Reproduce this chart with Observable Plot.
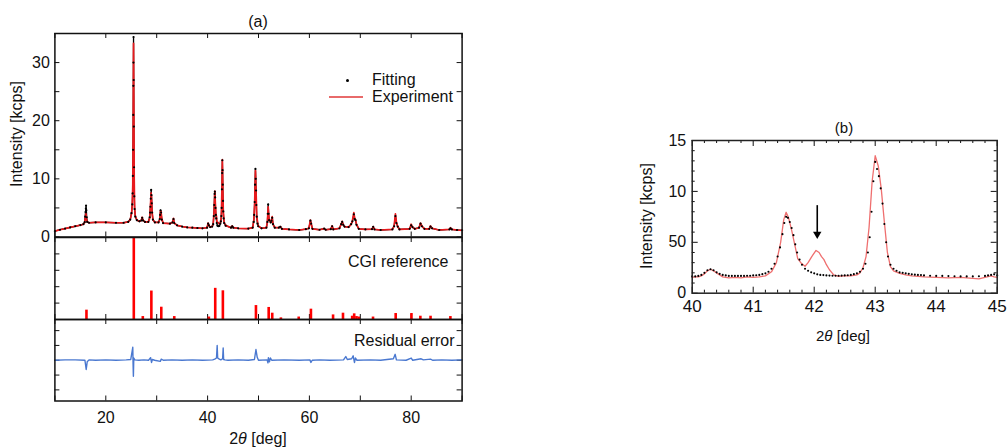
<!DOCTYPE html>
<html><head><meta charset="utf-8">
<script src="https://cdn.jsdelivr.net/npm/d3@7"></script>
<script src="https://cdn.jsdelivr.net/npm/@observablehq/plot@0.6"></script>
<style>
html,body{margin:0;padding:0;background:#fff;}
#root{position:relative;width:1007px;height:448px;overflow:hidden;font-family:'Liberation Sans',Arial,Helvetica,sans-serif;color:#111;}
#root svg{position:absolute;overflow:visible;}
.lbl{position:absolute;white-space:nowrap;line-height:1;color:#111;}
</style></head><body><div id="root"></div>
<script>
// ---------- DATA (2θ in deg, intensity in kcps) ----------
// Panel (a): experiment (red line)
const expA = [[10,1.0],[11,1.25],[12,1.45],[13,1.65],[14,1.85],[15,2.05],[15.6,2.2],[15.85,2.5],[16.0,3.6],[16.1,4.0],[16.2,3.2],[16.35,2.6],[16.7,2.45],[18,2.5],[20,2.5],[22,2.45],[23.5,2.45],[24.4,2.6],[24.8,3.0],[25.05,4.0],[25.2,5.5],[25.3,9],[25.38,20],[25.45,33.3],[25.52,22],[25.58,10],[25.66,5.0],[25.8,3.6],[26.1,2.9],[26.6,2.7],[27.0,2.9],[27.15,3.4],[27.3,2.9],[27.7,2.6],[28.35,2.6],[28.62,3.2],[28.78,5.5],[28.9,7.6],[28.98,6.8],[29.08,4.5],[29.25,3.0],[29.65,2.5],[30.35,2.5],[30.6,3.0],[30.74,4.5],[30.84,4.4],[31.0,3.2],[31.25,2.4],[32.6,2.3],[33.1,2.5],[33.3,3.2],[33.45,2.4],[34,2.0],[35,1.8],[36,1.65],[37,1.6],[38,1.55],[39,1.5],[39.9,1.6],[40.1,2.4],[40.25,2.0],[40.5,1.7],[40.9,1.8],[41.1,2.3],[41.28,4.5],[41.42,7.9],[41.52,5.8],[41.63,3.9],[41.73,3.6],[41.85,2.6],[42.05,2.5],[42.2,2.3],[42.5,2.4],[42.7,3.5],[42.82,8.5],[42.9,13.3],[42.98,9.0],[43.08,4.5],[43.25,2.5],[43.55,2.0],[44.6,1.6],[44.83,1.9],[45.05,1.6],[46,1.5],[48,1.45],[48.85,1.6],[49.1,3.0],[49.25,6.0],[49.4,11.4],[49.52,8.0],[49.65,3.5],[49.95,1.9],[50.6,1.5],[51.55,1.6],[51.75,2.6],[51.9,5.2],[52.08,3.0],[52.4,2.5],[52.55,2.9],[52.69,3.5],[52.85,2.2],[53.2,1.6],[54.0,1.6],[54.3,1.8],[54.6,1.4],[56,1.3],[58,1.2],[59.3,1.35],[59.9,1.5],[60.2,2.9],[60.35,2.3],[60.6,1.4],[62,1.25],[62.9,1.45],[63.2,1.25],[64.2,1.35],[64.47,1.9],[64.7,1.3],[65.9,1.5],[66.25,2.2],[66.44,2.7],[66.65,2.1],[66.9,1.8],[67.7,1.7],[68.2,2.2],[68.45,2.8],[68.73,4.2],[68.9,3.2],[69.05,3.0],[69.25,2.2],[69.7,1.4],[71,1.3],[72.3,1.35],[72.53,1.8],[72.8,1.3],[74,1.2],[76.3,1.3],[76.65,1.9],[76.9,4.0],[77.1,2.5],[77.35,1.8],[77.7,1.3],[79.7,1.4],[79.99,2.2],[80.25,1.7],[80.7,1.4],[81.55,1.6],[81.83,2.4],[82.1,1.9],[82.6,1.4],[83.55,1.4],[83.79,1.9],[84.1,1.5],[85.5,1.2],[87.5,1.3],[87.72,1.6],[88.0,1.3],[89,1.2],[90,1.15]];
// Panel (a): fitting (black dots)
const fitA = [[10,1.0],[11,1.25],[12,1.45],[13,1.65],[14,1.85],[15,2.05],[15.6,2.2],[15.85,2.55],[15.95,3.5],[16.02,4.3],[16.08,4.9],[16.12,5.4],[16.18,4.6],[16.25,3.4],[16.35,2.6],[16.7,2.45],[18,2.5],[20,2.5],[22,2.45],[23.5,2.45],[24.4,2.6],[24.8,3.0],[25.05,4.1],[25.2,5.6],[25.27,7.5],[25.32,10.5],[25.36,15],[25.39,21],[25.41,26],[25.43,30],[25.45,34.4],[25.48,27],[25.51,19],[25.55,12],[25.6,7],[25.66,4.8],[25.8,3.5],[26.1,2.9],[26.6,2.7],[27.0,2.85],[27.15,3.3],[27.3,2.85],[27.7,2.6],[28.35,2.6],[28.62,3.4],[28.7,4.2],[28.77,5.2],[28.84,6.6],[28.91,8.1],[28.97,7.2],[29.03,5.8],[29.1,4.2],[29.25,3.0],[29.65,2.5],[30.35,2.5],[30.6,3.1],[30.68,3.8],[30.76,4.6],[30.86,4.2],[31.0,3.0],[31.25,2.4],[32.6,2.3],[33.1,2.5],[33.3,3.1],[33.45,2.4],[34,2.0],[35,1.8],[36,1.65],[37,1.6],[38,1.55],[39,1.5],[39.9,1.6],[40.1,2.3],[40.25,2.0],[40.5,1.7],[40.9,1.8],[41.1,2.2],[41.22,3.6],[41.3,5.5],[41.38,7.4],[41.43,7.8],[41.48,6.8],[41.55,5.0],[41.62,3.8],[41.7,3.2],[41.8,2.4],[41.93,1.95],[42.1,1.85],[42.3,1.9],[42.5,2.3],[42.6,2.7],[42.7,3.6],[42.76,5.0],[42.82,8.2],[42.86,11.0],[42.9,13.2],[42.94,11.5],[42.98,9.0],[43.03,6.2],[43.08,4.4],[43.15,3.2],[43.25,2.4],[43.55,1.95],[44.6,1.6],[44.83,1.85],[45.05,1.6],[46,1.5],[48,1.45],[48.85,1.6],[49.05,2.6],[49.15,3.8],[49.25,6.0],[49.32,9.0],[49.4,11.7],[49.46,10.0],[49.52,8.0],[49.58,5.5],[49.65,3.5],[49.8,2.3],[49.95,1.85],[50.6,1.5],[51.55,1.6],[51.75,2.6],[51.82,4.0],[51.9,5.6],[51.98,4.0],[52.08,2.9],[52.4,2.5],[52.55,2.8],[52.69,3.3],[52.85,2.2],[53.2,1.6],[54.0,1.6],[54.3,1.75],[54.6,1.4],[56,1.3],[58,1.2],[59.3,1.35],[59.9,1.5],[60.2,2.8],[60.35,2.3],[60.6,1.4],[62,1.25],[62.9,1.45],[63.2,1.25],[64.2,1.35],[64.47,1.85],[64.7,1.3],[65.9,1.5],[66.25,2.2],[66.44,2.6],[66.65,2.1],[66.9,1.8],[67.7,1.7],[68.2,2.2],[68.45,2.7],[68.73,3.9],[68.9,3.1],[69.05,2.9],[69.25,2.1],[69.7,1.4],[71,1.3],[72.3,1.35],[72.53,1.75],[72.8,1.3],[74,1.2],[76.3,1.3],[76.65,1.85],[76.9,3.6],[77.1,2.4],[77.35,1.8],[77.7,1.3],[79.7,1.4],[79.99,2.0],[80.25,1.7],[80.7,1.4],[81.55,1.6],[81.83,2.3],[82.1,1.85],[82.6,1.4],[83.55,1.4],[83.79,1.8],[84.1,1.5],[85.5,1.2],[87.5,1.3],[87.72,1.5],[88.0,1.3],[89,1.2],[90,1.15]];
// Panel (a): CGI reference lines (relative intensity, %)
const cgiRef = [[16.2,11.4],[25.5,100],[27.27,3.6],[28.95,34.7],[30.9,15],[33.45,3.6],[40.25,3],[41.5,38],[43.0,35],[49.5,17],[52.0,14.7],[52.7,7.7],[54.4,2],[57.9,3],[60.3,12.6],[64.65,5.6],[66.6,7.7],[68.4,4],[68.8,6.9],[69.25,3.6],[69.7,3],[72.5,3],[76.95,7.3],[80.05,7.3],[81.8,4],[83.8,4],[87.7,3.6]];
// Panel (a): residual error
const resA = [[10,0],[12,0.05],[14,0.05],[15.9,0],[16.15,-1.25],[16.35,-0.2],[16.7,0.05],[18,0],[20,0.05],[22,0],[24,0.05],[24.9,0.1],[25.3,1.75],[25.36,-0.5],[25.42,-2.15],[25.5,0.3],[25.7,0.05],[26.5,0],[27.5,0.05],[28.4,0],[28.8,0.35],[28.98,-0.3],[29.15,0.1],[29.6,0],[30.7,-0.15],[30.9,0.15],[31.3,0],[33,0.05],[35,0],[37,0.05],[39,0],[41.0,0.05],[41.4,0.15],[41.75,0.3],[41.88,2.0],[41.98,0.3],[42.3,0.15],[42.6,0.05],[42.95,0.2],[43.06,1.65],[43.15,0.1],[43.4,0.05],[44,0],[46,0.05],[48,0],[49.2,0.1],[49.5,1.45],[49.75,0.4],[50.0,0],[51.7,0.05],[51.85,-0.35],[51.95,0.35],[52.15,-0.2],[52.35,0.3],[52.6,0],[55,0.05],[58,0],[60.1,0.05],[60.3,-0.3],[60.55,0],[62,0.05],[64,0],[66.7,0.05],[67.15,0.5],[67.45,0.1],[68.3,0.2],[68.6,0.6],[68.85,-0.3],[69.05,0.3],[69.35,0],[72,0.05],[74,0],[76.5,0.2],[76.85,0.8],[77.1,0.05],[79,0],[80.0,0.3],[80.3,0],[81.95,0.2],[82.4,0.05],[83.8,0.15],[84.2,0],[86,0.05],[88,0],[90,0.05]];
// Panel (b): experiment (red line) and fitting (black dots)
const expB = [[40.0,1.55],[40.05,1.6],[40.1,1.6],[40.15,1.7],[40.2,1.9],[40.25,2.2],[40.3,2.35],[40.35,2.2],[40.4,2.0],[40.45,1.8],[40.5,1.6],[40.6,1.5],[40.7,1.55],[40.8,1.5],[40.9,1.6],[41.0,1.55],[41.1,1.6],[41.2,1.7],[41.3,2.1],[41.38,3.0],[41.45,5.0],[41.5,7.2],[41.54,7.95],[41.58,7.4],[41.63,6.2],[41.68,4.8],[41.73,3.4],[41.78,3.0],[41.85,2.65],[41.9,3.0],[41.96,3.6],[42.03,4.2],[42.08,4.0],[42.12,3.6],[42.16,3.3],[42.2,2.8],[42.25,2.3],[42.32,1.8],[42.4,1.65],[42.5,1.7],[42.6,1.7],[42.7,1.8],[42.75,2.0],[42.8,2.5],[42.85,3.6],[42.9,6.5],[42.95,11.0],[43.0,13.5],[43.05,12.5],[43.1,10.2],[43.15,7.0],[43.2,4.0],[43.25,2.6],[43.3,2.2],[43.4,1.95],[43.5,1.8],[43.6,1.7],[43.8,1.6],[44.0,1.55],[44.2,1.5],[44.4,1.55],[44.6,1.45],[44.7,1.4],[44.8,1.55],[44.9,1.7],[44.95,1.6],[45.0,1.55]];
const fitB = [[40.0,1.65],[40.05,1.65],[40.1,1.7],[40.15,1.8],[40.2,2.0],[40.25,2.25],[40.3,2.35],[40.35,2.25],[40.4,2.05],[40.45,1.9],[40.5,1.8],[40.55,1.75],[40.6,1.7],[40.65,1.7],[40.7,1.7],[40.75,1.7],[40.8,1.7],[40.85,1.7],[40.9,1.72],[40.95,1.72],[41.0,1.75],[41.05,1.77],[41.1,1.8],[41.15,1.87],[41.2,1.95],[41.25,2.1],[41.3,2.4],[41.35,2.9],[41.4,3.6],[41.44,4.5],[41.48,5.8],[41.51,6.9],[41.54,7.5],[41.57,7.4],[41.6,7.0],[41.63,6.4],[41.66,5.7],[41.69,4.8],[41.72,4.0],[41.76,3.3],[41.8,2.8],[41.85,2.4],[41.9,2.2],[41.95,2.05],[42.0,1.95],[42.05,1.85],[42.1,1.8],[42.15,1.78],[42.2,1.75],[42.25,1.73],[42.3,1.72],[42.35,1.72],[42.4,1.72],[42.45,1.73],[42.5,1.75],[42.55,1.77],[42.6,1.8],[42.65,1.87],[42.7,1.95],[42.75,2.1],[42.8,2.4],[42.84,2.9],[42.88,4.0],[42.91,5.5],[42.94,8.0],[42.97,11.0],[43.0,12.9],[43.03,12.2],[43.06,11.5],[43.09,10.3],[43.12,8.8],[43.15,6.8],[43.18,5.0],[43.21,3.6],[43.25,2.8],[43.3,2.4],[43.35,2.2],[43.4,2.05],[43.45,2.0],[43.5,1.95],[43.55,1.9],[43.6,1.85],[43.65,1.82],[43.7,1.8],[43.75,1.78],[43.8,1.75],[43.9,1.72],[44.0,1.7],[44.1,1.7],[44.2,1.68],[44.3,1.67],[44.4,1.65],[44.5,1.65],[44.6,1.65],[44.7,1.67],[44.8,1.7],[44.85,1.75],[44.9,1.8],[44.95,1.85],[45.0,1.75]];
// Panel (b): arrow marking the extra reflection
const arrowB = [{x: 42.05, from: 8.6, to: 5.2}];
// Tick values and labels
const aXTicks = [10, 20, 30, 40, 50, 60, 70, 80, 90];
const aXLabels = [20, 40, 60, 80];
const aYTicks = [0, 5, 10, 15, 20, 25, 30, 35];
const aYLabels = [0, 10, 20, 30];
const cgiTicks = [20, 40, 60, 80];
const resTicks = [-4, -2, 0, 2, 4];
const bXMajor = [40, 41, 42, 43, 44, 45];
const bXMinor = [40.2,40.4,40.6,40.8,41.2,41.4,41.6,41.8,42.2,42.4,42.6,42.8,43.2,43.4,43.6,43.8,44.2,44.4,44.6,44.8];
const bYMajor = [0, 5, 10, 15];
const bYLabels = ["0", "50", "10", "15"];
const bYMinor = [1,2,3,4,6,7,8,9,11,12,13,14];

// ---------- helpers ----------
const root = document.getElementById("root");
const FONT = "'Liberation Sans', Arial, Helvetica, sans-serif";
const baseStyle = {fontFamily: FONT, fontSize: "16px", color: "#111", background: "transparent", overflow: "visible"};
const pt = a => a.map(([x, y]) => ({x, y}));

function frameTicks(xs, ys, xd, yd, iw, ih, len, sw = 1) {
  const lx = (xd[1] - xd[0]) * len / iw;
  const ly = (yd[1] - yd[0]) * len / ih;
  const o = {stroke: "#111", strokeWidth: sw};
  const m = [];
  if (xs) {
    m.push(Plot.ruleX(xs, {x: d => d, y1: () => yd[0], y2: () => yd[0] + ly, ...o}));
    m.push(Plot.ruleX(xs, {x: d => d, y1: () => yd[1] - ly, y2: () => yd[1], ...o}));
  }
  if (ys) {
    m.push(Plot.ruleY(ys, {y: d => d, x1: () => xd[0], x2: () => xd[0] + lx, ...o}));
    m.push(Plot.ruleY(ys, {y: d => d, x1: () => xd[1] - lx, x2: () => xd[1], ...o}));
  }
  return m;
}
function put(node, left, top) {
  node.style.position = "absolute";
  node.style.left = left + "px";
  node.style.top = top + "px";
  root.appendChild(node);
}
function label(html, cx, cy, size, opts = {}) {
  const d = document.createElement("div");
  d.className = "lbl";
  d.innerHTML = html;
  d.style.fontSize = size + "px";
  d.style.left = cx + "px";
  d.style.top = cy + "px";
  d.style.transform = (opts.left ? "translate(0,-50%)" : "translate(-50%,-50%)") + (opts.rotate ? " rotate(-90deg)" : "");
  root.appendChild(d);
}

// ---------- panel (a) geometry ----------
const AW = 480, AML = 54.4, AMR = 18.4, AIW = AW - AML - AMR;
const xDomA = [10, 90];

// (a) top: pattern
const y1Dom = [0, 35];
const A1 = Plot.plot({
  width: AW, height: 240, marginLeft: AML, marginRight: AMR, marginTop: 33, marginBottom: 3.5,
  x: {domain: xDomA, axis: null},
  y: {domain: y1Dom},
  style: baseStyle,
  marks: [
    ...frameTicks(aXTicks, aYTicks, xDomA, y1Dom, AIW, 203.5, 5),
    Plot.axisY({ticks: aYLabels, anchor: "left", tickSize: 0, tickPadding: 5, label: null, fontSize: 16}),
    Plot.line(pt(fitA), {x: "x", y: "y", stroke: "#000", strokeWidth: 1.3}),
    Plot.line(pt(expA), {x: "x", y: "y", stroke: "#e8191c", strokeWidth: 1.7}),
    Plot.dot(pt(fitA), {x: "x", y: "y", r: 1.1, fill: "#000", stroke: null}),
    Plot.frame({stroke: "#111", strokeWidth: 1.5})
  ]
});
put(A1, 0, 0);

// (a) middle: CGI reference
const y2Dom = [0, 100];
const A2 = Plot.plot({
  width: AW, height: 82, marginLeft: AML, marginRight: AMR, marginTop: 0, marginBottom: 0,
  x: {domain: xDomA, axis: null},
  y: {domain: y2Dom, axis: null},
  style: baseStyle,
  marks: [
    ...frameTicks(aXTicks, cgiTicks, xDomA, y2Dom, AIW, 82, 5),
    Plot.ruleX(cgiRef, {x: d => d[0], y1: () => 0, y2: d => d[1], stroke: "#ff0000", strokeWidth: 2.6}),
    Plot.text(["CGI reference"], {text: d => d, frameAnchor: "top-right", textAnchor: "end", dx: -13.6, dy: 18.5, fontSize: 16, fill: "#111"}),
    Plot.frame({stroke: "#111", strokeWidth: 1.5})
  ]
});
put(A2, 0, 236.5);

// (a) bottom: residual
const y3Dom = [-5.5, 5.5];
const A3 = Plot.plot({
  width: AW, height: 129.5, marginLeft: AML, marginRight: AMR, marginTop: 0, marginBottom: 48,
  x: {domain: xDomA},
  y: {domain: y3Dom, axis: null},
  style: baseStyle,
  marks: [
    ...frameTicks(aXTicks, resTicks, xDomA, y3Dom, AIW, 81.5, 5),
    Plot.axisX({ticks: aXLabels, anchor: "bottom", tickSize: 0, tickPadding: 11, label: null, fontSize: 16, tickFormat: d3.format("d")}),
    Plot.line(pt(resA), {x: "x", y: "y", stroke: "#4a78d0", strokeWidth: 1.4}),
    Plot.text(["Residual error"], {text: d => d, frameAnchor: "top-right", textAnchor: "end", dx: -7.6, dy: 15.5, fontSize: 16, fill: "#111"}),
    Plot.frame({stroke: "#111", strokeWidth: 1.5})
  ]
});
put(A3, 0, 318.5);

// ---------- panel (b) ----------
const xDomB = [40, 45], yDomB = [0, 15];
const BIH = 152.7;
const headOff = 6 * (yDomB[1] - yDomB[0]) / BIH; // triangle centre sits above its tip
const B = Plot.plot({
  width: 407, height: 238, marginLeft: 91.7, marginRight: 10.3, marginTop: 30, marginBottom: 55.3,
  x: {domain: xDomB},
  y: {domain: yDomB},
  style: baseStyle,
  marks: [
    ...frameTicks(bXMajor, bYMajor, xDomB, yDomB, 305, BIH, 6),
    ...frameTicks(bXMinor, bYMinor, xDomB, yDomB, 305, BIH, 3),
    Plot.axisY({ticks: bYMajor, anchor: "left", tickSize: 0, tickPadding: 6, label: null, fontSize: 16,
      tickFormat: d => bYLabels[bYMajor.indexOf(d)]}),
    Plot.axisX({ticks: bXMajor, anchor: "bottom", tickSize: 0, tickPadding: 7, label: null, fontSize: 17,
      tickFormat: d3.format("d")}),
    Plot.line(pt(expB), {x: "x", y: "y", stroke: "#ef6f6f", strokeWidth: 1.3}),
    Plot.dot(pt(fitB), {x: "x", y: "y", r: 1.05, fill: "#000", stroke: null}),
    Plot.ruleX(arrowB, {x: "x", y1: "from", y2: d => d.to + headOff, stroke: "#000", strokeWidth: 1.6}),
    Plot.dot(arrowB, {x: "x", y: d => d.to + headOff, symbol: "triangle2", rotate: 180, r: 4, fill: "#000", stroke: null}),
    Plot.frame({stroke: "#222", strokeWidth: 1.5})
  ]
});
put(B, 600, 110);

// ---------- text: titles, axis labels, legend ----------
label("(a)", 258, 22, 16);
label("Intensity [kcps]", 17, 134, 16, {rotate: true});
label("2<i>θ</i> [deg]", 258, 439, 16);
label("(b)", 844, 127, 15);
label("Intensity [kcps]", 647, 216, 16, {rotate: true});
label("2<i>θ</i> [deg]", 843, 335, 15);

// legend (panel a)
const ldot = document.createElement("div");
Object.assign(ldot.style, {position: "absolute", left: "345.5px", top: "78.5px", width: "3px", height: "3px", borderRadius: "50%", background: "#000"});
root.appendChild(ldot);
const lline = document.createElement("div");
Object.assign(lline.style, {position: "absolute", left: "329px", top: "96.2px", width: "34px", height: "1.6px", background: "#e86a6a"});
root.appendChild(lline);
label("Fitting", 372, 80, 16, {left: true});
label("Experiment", 372, 97, 16, {left: true});
</script></body></html>
